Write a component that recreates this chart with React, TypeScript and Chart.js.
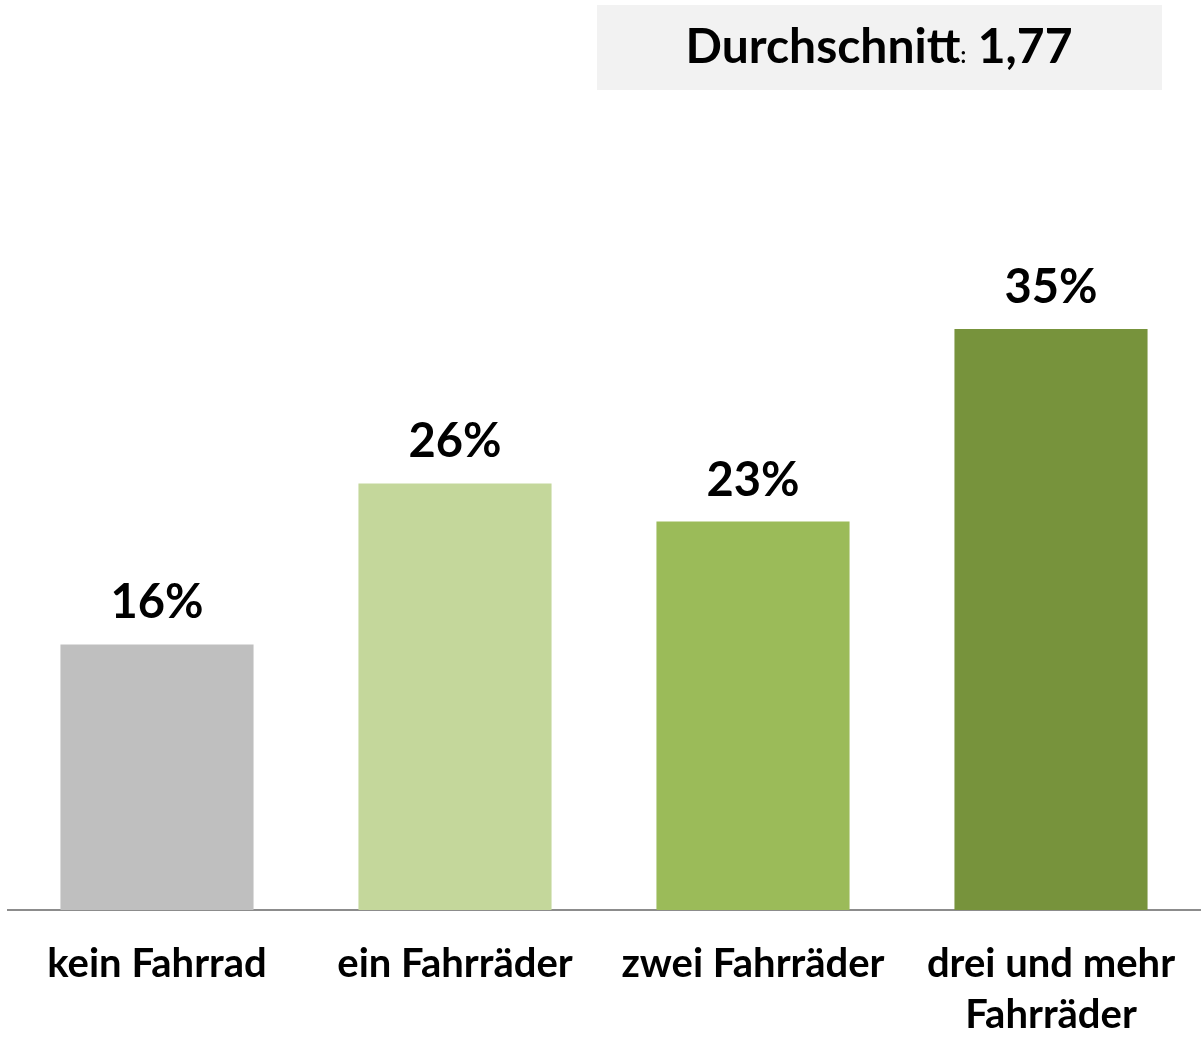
import React, { useEffect, useRef } from "react";
import { Chart, registerables } from "chart.js";

Chart.register(...registerables);

const categories: (string | string[])[] = [
  "kein Fahrrad",
  "ein Fahrräder",
  "zwei Fahrräder",
  ["drei und mehr", "Fahrräder"],
];
const values: number[] = [16.0, 25.7, 23.4, 35.0];
const valueLabels: string[] = ["16%", "26%", "23%", "35%"];
const barColors: string[] = ["#bfbfbf", "#c4d79b", "#9bbb59", "#77933c"];
const averageLabel = "Durchschnitt";
const averageValue = "1,77";

const FONT = "Lato, 'Open Sans', sans-serif";

const labelPlugin = {
  id: "valueLabels",
  afterDatasetsDraw(chart: any) {
    const ctx = chart.ctx;
    const meta = chart.getDatasetMeta(0);
    ctx.save();
    ctx.font = `bold 47px ${FONT}`;
    ctx.fillStyle = "#000000";
    ctx.textAlign = "center";
    ctx.textBaseline = "alphabetic";
    meta.data.forEach((bar: any, i: number) => {
      ctx.fillText(valueLabels[i], bar.x, bar.y - 26);
    });
    ctx.restore();
  },
};

const averagePlugin = {
  id: "averageBox",
  afterDraw(chart: any) {
    const ctx = chart.ctx;
    ctx.save();
    ctx.fillStyle = "#f2f2f2";
    ctx.fillRect(597, 5, 565, 85);
    const big = `bold 48px ${FONT}`;
    const small = `bold 22px ${FONT}`;
    ctx.font = big;
    const w1 = ctx.measureText(averageLabel).width;
    const w3 = ctx.measureText(" " + averageValue).width;
    ctx.font = small;
    const w2 = ctx.measureText(":").width;
    const total = w1 + w2 + w3;
    let x = 879 - total / 2;
    const y = 63;
    ctx.fillStyle = "#000000";
    ctx.textBaseline = "alphabetic";
    ctx.textAlign = "left";
    ctx.font = big;
    ctx.fillText(averageLabel, x, y);
    x += w1;
    ctx.font = small;
    ctx.fillText(":", x, y);
    x += w2;
    ctx.font = big;
    ctx.fillText(" " + averageValue, x, y);
    ctx.restore();
  },
};

export default function App() {
  const ref = useRef<HTMLCanvasElement | null>(null);
  useEffect(() => {
    if (!ref.current) return;
    const chart = new Chart(ref.current, {
      type: "bar",
      data: {
        labels: categories,
        datasets: [
          {
            data: values,
            backgroundColor: barColors,
            borderWidth: 0,
            categoryPercentage: 1,
            barPercentage: 0.648,
          },
        ],
      },
      options: {
        animation: false,
        responsive: false,
        layout: { padding: { left: 8, right: 4, top: 80, bottom: 0 } },
        plugins: {
          legend: { display: false },
          tooltip: { enabled: false },
          title: { display: false },
        },
        scales: {
          y: {
            display: false,
            min: 0,
            max: 50,
          },
          x: {
            grid: { display: false, drawTicks: false },
            border: { display: true, color: "#8c8c8c", width: 2 },
            ticks: {
              color: "#000000",
              font: { family: FONT, size: 40, weight: "bold", lineHeight: 1.28 },
              padding: 28,
              maxRotation: 0,
              autoSkip: false,
            },
            afterFit: (scale: any) => {
              scale.height = 128;
            },
          },
        },
      },
      plugins: [labelPlugin, averagePlugin],
    });
    return () => chart.destroy();
  }, []);
  return (
    <div style={{ position: "absolute", left: 0, top: 0, width: 1204, height: 1038, background: "#ffffff" }}>
      <canvas ref={ref} width={1204} height={1038} style={{ display: "block" }} />
    </div>
  );
}
